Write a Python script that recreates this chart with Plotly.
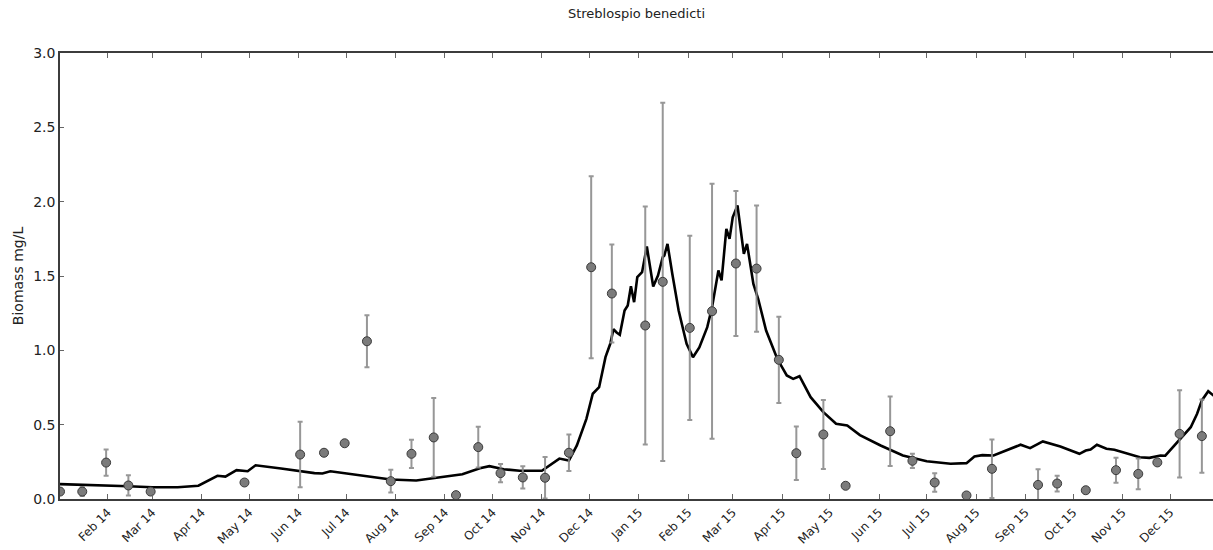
import pandas as pd
import plotly.graph_objects as go

# Reference date for all day offsets
START = pd.Timestamp("2014-01-01")

# Modelled biomass (day offset from 1 Jan 2014, mg/L)
model_day = [1, 29, 44, 59, 75, 88, 94, 100, 105, 112, 119, 124, 140, 152, 161, 166,
             171, 194, 209, 225, 238, 254, 265, 271, 280, 290, 304, 308, 315, 321,
             326, 332, 336, 340, 344, 347, 349, 351, 353, 356, 358, 360, 362, 364,
             367, 370, 374, 377, 380, 381, 383, 386, 390, 395, 399, 403, 408, 411,
             413, 415, 417, 420, 422, 424, 427, 429, 431, 433, 435, 437, 440, 445,
             452, 458, 462, 466, 473, 481, 489, 496, 504, 517, 531, 546, 561, 571,
             576, 581, 588, 593, 599, 605, 611, 619, 630, 642, 646, 649, 653, 659,
             664, 672, 680, 686, 693, 696, 701, 706, 712, 716, 719, 723, 725, 727]
model_val = [0.100, 0.093, 0.086, 0.079, 0.079, 0.089, 0.120, 0.156, 0.151, 0.194,
             0.187, 0.227, 0.205, 0.187, 0.174, 0.172, 0.187, 0.153, 0.131, 0.124,
             0.143, 0.167, 0.207, 0.221, 0.200, 0.190, 0.190, 0.221, 0.272, 0.259,
             0.360, 0.539, 0.708, 0.752, 0.954, 1.044, 1.142, 1.120, 1.105, 1.268,
             1.302, 1.431, 1.324, 1.492, 1.526, 1.698, 1.429, 1.503, 1.627, 1.638,
             1.716, 1.515, 1.268, 1.044, 0.954, 1.020, 1.156, 1.290, 1.402, 1.537,
             1.470, 1.817, 1.750, 1.895, 1.974, 1.828, 1.649, 1.716, 1.582, 1.447,
             1.347, 1.133, 0.943, 0.831, 0.808, 0.826, 0.685, 0.584, 0.506, 0.494,
             0.430, 0.360, 0.293, 0.254, 0.237, 0.241, 0.286, 0.295, 0.293, 0.315,
             0.344, 0.365, 0.342, 0.387, 0.353, 0.304, 0.326, 0.333, 0.365, 0.338,
             0.331, 0.304, 0.281, 0.277, 0.293, 0.291, 0.353, 0.416, 0.483, 0.573,
             0.663, 0.725, 0.708, 0.690]

# Field samples: day offset, mean biomass and standard deviation (mg/L)
obs_day = [1, 15, 30, 44, 58, 117, 152, 167, 180, 194, 209, 222, 236, 250, 264,
           278, 292, 306, 321, 335, 348, 369, 380, 397, 411, 426, 439, 453, 464,
           481, 495, 523, 537, 551, 571, 587, 616, 628, 646, 665, 679, 691, 705, 719]
obs_val = [0.050, 0.050, 0.245, 0.091, 0.050, 0.111, 0.299, 0.311, 0.375, 1.061,
           0.120, 0.304, 0.414, 0.026, 0.349, 0.174, 0.145, 0.143, 0.311, 1.559,
           1.382, 1.167, 1.461, 1.151, 1.263, 1.584, 1.550, 0.936, 0.308, 0.434,
           0.089, 0.456, 0.257, 0.111, 0.024, 0.203, 0.095, 0.104, 0.059, 0.194,
           0.169, 0.246, 0.438, 0.423]
obs_sd = [0.000, 0.030, 0.088, 0.068, 0.000, 0.000, 0.220, 0.000, 0.000, 0.175,
          0.077, 0.095, 0.265, 0.000, 0.137, 0.062, 0.075, 0.140, 0.123, 0.612,
          0.330, 0.800, 1.205, 0.619, 0.858, 0.488, 0.425, 0.290, 0.180, 0.232,
          0.000, 0.234, 0.048, 0.062, 0.000, 0.197, 0.105, 0.053, 0.000, 0.084,
          0.103, 0.000, 0.293, 0.247]

title_text = "Streblospio benedicti"
y_title = "Biomass mg/L"

model_dates = START + pd.to_timedelta(model_day, unit="D")
obs_dates = START + pd.to_timedelta(obs_day, unit="D")

FONT = "DejaVu Sans"
AXIS_COLOR = "#3c3c3c"

fig = go.Figure()

fig.add_trace(go.Scatter(
    x=model_dates, y=model_val, mode="lines",
    line=dict(color="black", width=2.6),
    showlegend=False, hoverinfo="skip",
))

fig.add_trace(go.Scatter(
    x=obs_dates, y=obs_val, mode="markers",
    marker=dict(size=9, color="#7b7b7b", line=dict(color="#3a3a3a", width=1)),
    error_y=dict(type="data", array=obs_sd, visible=True,
                 color="rgba(140,140,140,0.9)", thickness=2, width=2.5),
    showlegend=False,
))

fig.update_layout(
    width=1213, height=550,
    margin=dict(l=60, r=0, t=53, b=51),
    paper_bgcolor="white", plot_bgcolor="white",
    font=dict(family=FONT, color="#222222"),
    title=dict(text=title_text, x=0.5, xref="paper", xanchor="center",
               y=0.975, yref="container", yanchor="middle",
               font=dict(size=13, family=FONT, color="#222222")),
    xaxis=dict(
        type="date",
        range=[START + pd.Timedelta(days=1), START + pd.Timedelta(days=726)],
        tick0="2014-02-01", dtick="M1", tickformat="%b %y",
        tickangle=-45, tickfont=dict(size=12, family=FONT),
        ticks="inside", ticklen=5, tickwidth=1, tickcolor="#666666",
        showline=True, linecolor=AXIS_COLOR, linewidth=1.5, mirror="ticks",
        showgrid=False, zeroline=False,
    ),
    yaxis=dict(
        range=[0, 3], dtick=0.5, tickformat=".1f",
        tickfont=dict(size=14, family=FONT),
        ticks="inside", ticklen=4, tickwidth=1, tickcolor="#666666",
        showline=True, linecolor=AXIS_COLOR, linewidth=1.5,
        showgrid=False, zeroline=False,
        title=dict(text=y_title, font=dict(size=14, family=FONT), standoff=6),
    ),
)

fig.write_html("out.html")
